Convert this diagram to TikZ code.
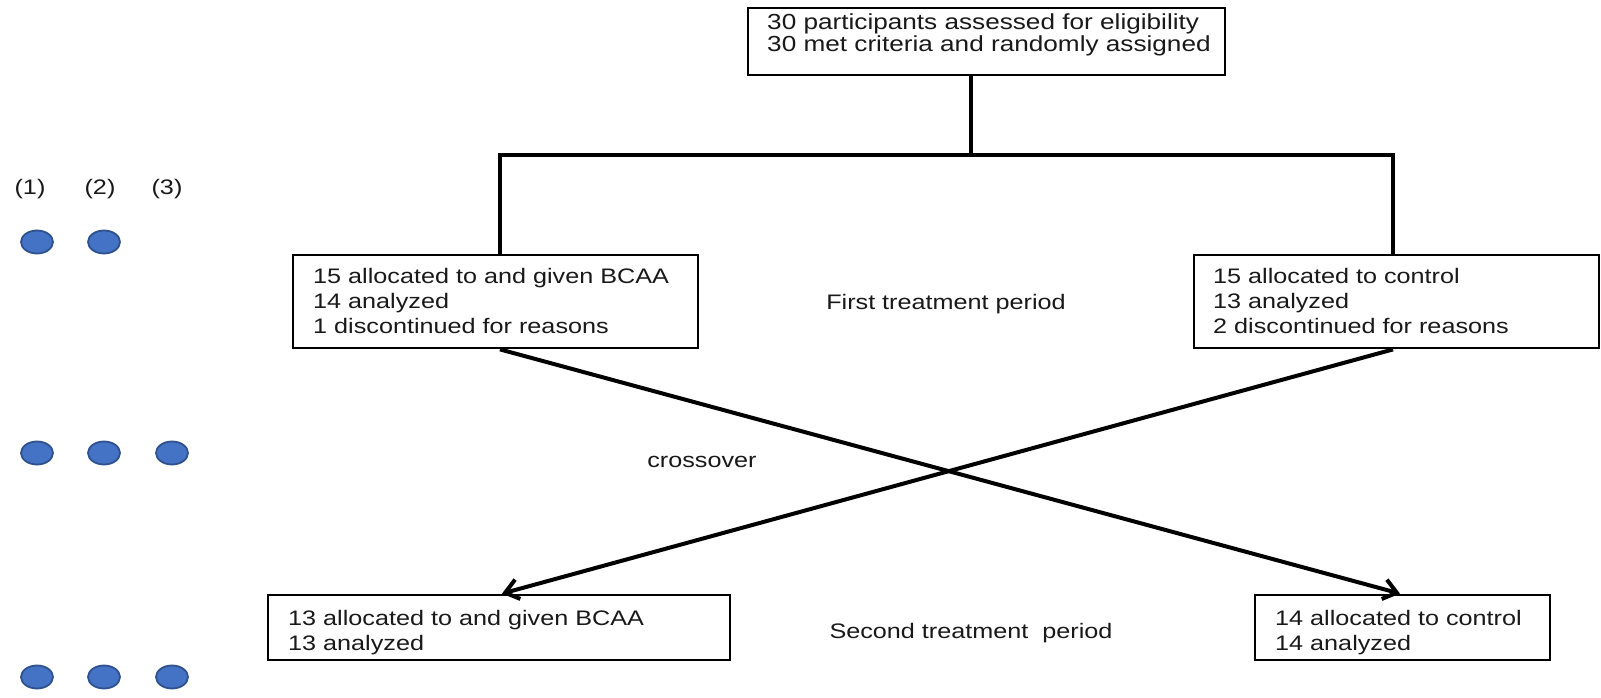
\documentclass[tikz,border=0pt]{standalone}
\usepackage{fontspec}
\setmainfont{Liberation Sans}[FakeStretch=1.2]
\usetikzlibrary{arrows.meta,shapes.geometric}
\definecolor{dotfill}{RGB}{68,114,196}
\definecolor{dotline}{RGB}{47,82,143}
\definecolor{ink}{RGB}{25,25,25}
\begin{document}
\begin{tikzpicture}[x=1pt,y=-1pt,
  box/.style={draw, line width=2.8pt, rectangle, inner sep=0pt},
  txt/.style={anchor=north west, inner sep=0pt, align=left, text=ink, font=\fontsize{21}{25}\selectfont},
  lbl/.style={anchor=north, inner sep=0pt, text=ink, font=\fontsize{21}{25}\selectfont},
  conn/.style={line width=4pt},
  arr/.style={line width=4pt, -{Straight Barb[length=13pt,width=20pt]}},
  dot/.style={ellipse, draw=dotline, fill=dotfill, line width=1.8pt, minimum width=32pt, minimum height=23pt, inner sep=0pt}]
\useasboundingbox (0,0) rectangle (1601,698);
\fill[white] (0,0) rectangle (1601,698);

% boxes
\node[box, minimum width=477pt, minimum height=67pt] (top) at (986.5,41.5) {};
\node[box, minimum width=405pt, minimum height=93pt] (L1) at (495.5,301.5) {};
\node[box, minimum width=405pt, minimum height=93pt] (R1) at (1396.5,301.5) {};
\node[box, minimum width=462pt, minimum height=65pt] (L2) at (499,627.5) {};
\node[box, minimum width=295pt, minimum height=65pt] (R2) at (1402.5,627.5) {};

% box texts
\node[txt, font=\fontsize{21.8}{22}\selectfont] (topt) at (767,14) {30 participants assessed for eligibility\\30 met criteria and randomly assigned};
\node[txt] (L1t) at (313,268) {15 allocated to and given BCAA\\14 analyzed\\1 discontinued for reasons};
\node[txt] (R1t) at (1213,268) {15 allocated to control\\13 analyzed\\2 discontinued for reasons};
\node[txt] (L2t) at (288,610) {13 allocated to and given BCAA\\13 analyzed};
\node[txt] (R2t) at (1275,610) {14 allocated to control\\14 analyzed};

% free labels
\node[lbl] (first) at (946,294) {First treatment period};
\node[lbl] (cross) at (702,456) {crossover};
\node[lbl] (second) at (971,623) {Second treatment\ \ period};

% connectors
\coordinate (split) at (971,155);
\coordinate (lcorner) at (500,155);
\coordinate (rcorner) at (1393,155);
\coordinate (ltip) at (502,0);
\coordinate (rtip) at (1400,0);
\draw[conn] (top.south -| split) -- (split);
\draw[conn] (L1.north -| lcorner) -- (lcorner) -- (rcorner) -- (R1.north -| rcorner);
\draw[arr] (L1.south -| lcorner) -- (R2.north -| rtip);
\draw[arr] (R1.south -| rcorner) -- (L2.north -| ltip);

% group labels and dots
\node[lbl, anchor=center] (g1) at (30,189) {(1)};
\node[lbl, anchor=center] (g2) at (100,189) {(2)};
\node[lbl, anchor=center] (g3) at (167,189) {(3)};
\node[dot] (d11) at (37,242) {};
\node[dot] (d12) at (104,242) {};
\node[dot] (d21) at (37,453) {};
\node[dot] (d22) at (104,453) {};
\node[dot] (d23) at (172,453) {};
\node[dot] (d31) at (37,677) {};
\node[dot] (d32) at (104,677) {};
\node[dot] (d33) at (172,677) {};
\end{tikzpicture}
\end{document}
